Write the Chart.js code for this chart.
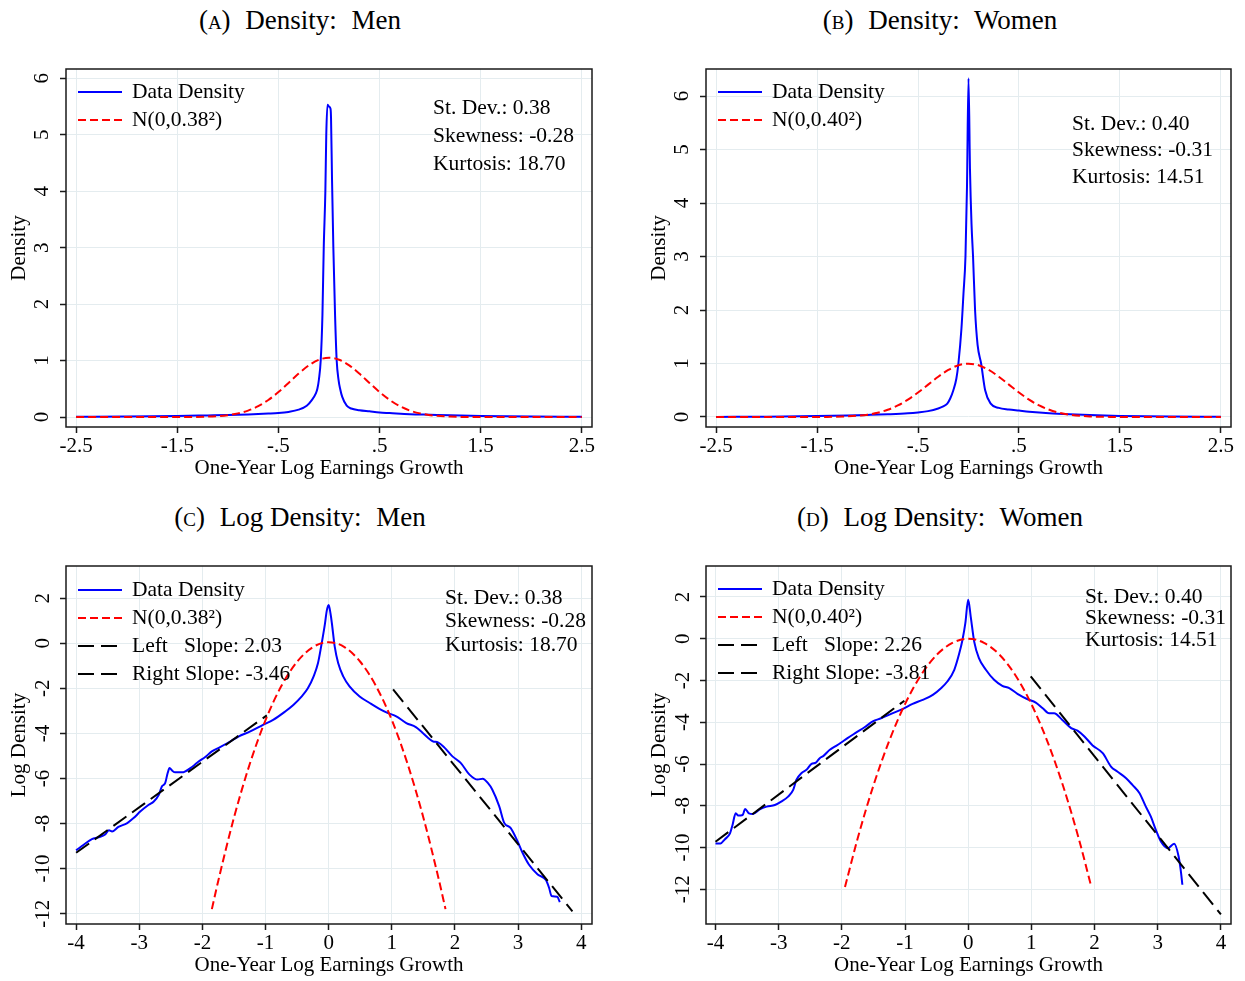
<!DOCTYPE html>
<html lang="en">
<head>
  <meta charset="UTF-8">
  <title>Earnings growth densities</title>
  <style>
    body {
      margin: 0;
      background: #fff;
      overflow: hidden;
      width: 1245px;
      height: 981px;
      position: relative;
    }
    canvas { position: absolute; }
    .ttl {
      position: absolute;
      width: 400px;
      text-align: center;
      font: 27px "Liberation Serif", "Times New Roman", serif;
      line-height: 32px;
      color: #000;
    }
    .sc { font-variant: small-caps; }
    .gap { margin-right: 8px; }
  </style>
</head>
<body>
  <div class="ttl" style="left:100px; top:4px">(<span class="sc">a</span>)<span class="gap"></span> Density:<span class="gap"></span> Men</div>
  <div class="ttl" style="left:740px; top:4px">(<span class="sc">b</span>)<span class="gap"></span> Density:<span class="gap"></span> Women</div>
  <div class="ttl" style="left:100px; top:501px">(<span class="sc">c</span>)<span class="gap"></span> Log Density:<span class="gap"></span> Men</div>
  <div class="ttl" style="left:740px; top:501px">(<span class="sc">d</span>)<span class="gap"></span> Log Density:<span class="gap"></span> Women</div>

  <canvas id="pa" width="620" height="490" style="left:0; top:0"></canvas>
  <canvas id="pb" width="605" height="490" style="left:640px; top:0"></canvas>
  <canvas id="pc" width="620" height="490" style="left:0; top:497px"></canvas>
  <canvas id="pd" width="605" height="490" style="left:640px; top:497px"></canvas>

  <script src="https://cdn.jsdelivr.net/npm/chart.js@4.4.9/dist/chart.umd.min.js"></script>
  <script>
    // ---- data ----
    const densTicksX = [-2.5, -1.5, -0.5, 0.5, 1.5, 2.5]
    const densTickLabelsX = ['-2.5', '-1.5', '-.5', '.5', '1.5', '2.5']
    const densTicksY = [0, 1, 2, 3, 4, 5, 6]
    const logTicksX = [-4, -3, -2, -1, 0, 1, 2, 3, 4]
    const logTicksY = [-12, -10, -8, -6, -4, -2, 0, 2]

    const menStats = ['St. Dev.: 0.38', 'Skewness: -0.28', 'Kurtosis: 18.70']
    const womenStats = ['St. Dev.: 0.40', 'Skewness: -0.31', 'Kurtosis: 14.51']

    // panel A: density, men
    const menDensX = [-2.5, -2.0, -1.5, -1.2, -1.0, -0.8, -0.6, -0.5, -0.4, -0.3, -0.22, -0.17, -0.13, -0.115, -0.1, -0.082, -0.065, -0.052, -0.036, -0.027, -0.015, 0, 0.015, 0.02, 0.03, 0.043, 0.06, 0.076, 0.095, 0.11, 0.13, 0.175, 0.22, 0.3, 0.4, 0.5, 0.6, 0.8, 1.0, 1.2, 1.5, 2.0, 2.5]
    const menDensY = [0.003, 0.008, 0.018, 0.028, 0.035, 0.045, 0.06, 0.07, 0.09, 0.13, 0.2, 0.3, 0.42, 0.5, 0.66, 1.0, 1.8, 3.0, 4.0, 5.0, 5.53, 5.5, 5.46, 5.3, 4.2, 3.0, 1.8, 1.0, 0.65, 0.5, 0.36, 0.2, 0.15, 0.12, 0.1, 0.08, 0.07, 0.05, 0.04, 0.03, 0.02, 0.008, 0.003]

    // panel B: density, women
    const womenDensX = [-2.5, -2.0, -1.5, -1.2, -1.0, -0.8, -0.6, -0.5, -0.4, -0.3, -0.25, -0.21, -0.18, -0.15, -0.12, -0.1, -0.07, -0.05, -0.03, -0.015, 0, 0.015, 0.03, 0.045, 0.065, 0.09, 0.125, 0.165, 0.22, 0.3, 0.4, 0.5, 0.6, 0.8, 1.0, 1.2, 1.5, 2.0, 2.5]
    const womenDensY = [0.002, 0.006, 0.018, 0.028, 0.038, 0.05, 0.068, 0.085, 0.11, 0.16, 0.2, 0.25, 0.35, 0.5, 0.72, 1.0, 1.65, 2.3, 3.0, 4.3, 6.33, 4.6, 3.6, 3.0, 2.0, 1.35, 1.0, 0.5, 0.25, 0.17, 0.14, 0.12, 0.1, 0.07, 0.05, 0.035, 0.02, 0.008, 0.003]

    // normal reference densities
    const normX = [-2.5, -2.0, -1.6, -1.4, -1.2, -1.0, -0.9, -0.8, -0.7, -0.6, -0.5, -0.4, -0.3, -0.2, -0.1, 0, 0.1, 0.2, 0.3, 0.4, 0.5, 0.6, 0.7, 0.8, 0.9, 1.0, 1.2, 1.4, 1.6, 2.0, 2.5]
    const menNormY = [0, 0, 0.0001, 0.001, 0.007, 0.033, 0.064, 0.114, 0.192, 0.302, 0.442, 0.603, 0.769, 0.914, 1.014, 1.05, 1.014, 0.914, 0.769, 0.603, 0.442, 0.302, 0.192, 0.114, 0.064, 0.033, 0.007, 0.001, 0.0001, 0, 0]
    const womenNormY = [0, 0, 0.0003, 0.002, 0.011, 0.044, 0.079, 0.135, 0.216, 0.324, 0.457, 0.605, 0.753, 0.88, 0.967, 0.997, 0.967, 0.88, 0.753, 0.605, 0.457, 0.324, 0.216, 0.135, 0.079, 0.044, 0.011, 0.002, 0.0003, 0, 0]

    // panel C: log density, men
    const menLogX = [-4, -3.88, -3.75, -3.64, -3.54, -3.48, -3.43, -3.33, -3.19, -3.09, -2.98, -2.85, -2.77, -2.69, -2.64, -2.59, -2.55, -2.52, -2.48, -2.43, -2.3, -2.19, -2.12, -2.06, -1.96, -1.85, -1.72, -1.56, -1.43, -1.25, -1.04, -0.88, -0.69, -0.56, -0.43, -0.33, -0.24, -0.17, -0.12, -0.06, -0.03, 0, 0.03, 0.05, 0.095, 0.15, 0.23, 0.33, 0.49, 0.65, 0.81, 0.94, 1.07, 1.23, 1.38, 1.49, 1.65, 1.73, 1.83, 1.96, 2.09, 2.23, 2.36, 2.44, 2.52, 2.59, 2.7, 2.78, 2.88, 2.99, 3.07, 3.17, 3.31, 3.44, 3.49, 3.53, 3.62, 3.66]
    const menLogY = [-9.19, -8.94, -8.69, -8.61, -8.49, -8.3, -8.35, -8.15, -7.98, -7.76, -7.46, -7.17, -7.02, -6.72, -6.35, -6.21, -5.76, -5.54, -5.65, -5.73, -5.72, -5.54, -5.39, -5.25, -5.06, -4.8, -4.61, -4.36, -4.14, -3.92, -3.62, -3.4, -3.03, -2.74, -2.37, -2.0, -1.48, -0.89, -0.15, 0.85, 1.45, 1.7, 1.3, 0.9, -0.14, -0.88, -1.47, -1.91, -2.36, -2.65, -2.92, -3.1, -3.24, -3.54, -3.72, -3.98, -4.35, -4.4, -4.62, -5.02, -5.31, -5.83, -6.05, -6.01, -6.2, -6.49, -7.23, -7.97, -8.19, -8.78, -9.3, -9.82, -10.26, -10.51, -10.85, -11.22, -11.25, -11.49]
    const menLogNormX = [-1.85, -1.75, -1.5, -1.25, -1, -0.75, -0.5, -0.25, 0, 0.25, 0.5, 0.75, 1, 1.25, 1.5, 1.75, 1.85]
    const menLogNormY = [-11.8, -10.56, -7.74, -5.36, -3.41, -1.9, -0.82, -0.17, 0.05, -0.17, -0.82, -1.9, -3.41, -5.36, -7.74, -10.56, -11.8]
    const menLeftX = [-4, -0.98]
    const menLeftY = [-9.3, -3.2]
    const menRightX = [1.02, 3.86]
    const menRightY = [-2.05, -11.9]

    // panel D: log density, women
    const womenLogX = [-4, -3.92, -3.85, -3.77, -3.73, -3.68, -3.64, -3.57, -3.53, -3.47, -3.41, -3.3, -3.19, -3.06, -2.96, -2.85, -2.77, -2.72, -2.64, -2.56, -2.48, -2.41, -2.35, -2.29, -2.19, -2.09, -2.01, -1.91, -1.77, -1.64, -1.51, -1.38, -1.22, -1.04, -0.88, -0.72, -0.56, -0.43, -0.33, -0.22, -0.14, -0.09, -0.045, 0, 0.04, 0.095, 0.17, 0.28, 0.41, 0.54, 0.65, 0.78, 0.94, 1.07, 1.18, 1.28, 1.36, 1.49, 1.63, 1.73, 1.84, 1.97, 2.13, 2.26, 2.36, 2.5, 2.6, 2.71, 2.81, 2.89, 2.97, 3.05, 3.16, 3.26, 3.33, 3.37, 3.39]
    const womenLogY = [-9.8, -9.8, -9.6, -9.32, -8.92, -8.36, -8.47, -8.44, -8.15, -8.36, -8.39, -8.17, -8.04, -7.96, -7.8, -7.56, -7.24, -6.76, -6.44, -6.28, -5.99, -5.93, -5.72, -5.61, -5.32, -5.13, -4.97, -4.76, -4.49, -4.24, -3.96, -3.81, -3.6, -3.37, -3.12, -2.93, -2.69, -2.37, -2.05, -1.49, -0.69, -0.05, 0.74, 1.86, 1.06, -0.14, -0.93, -1.49, -1.97, -2.26, -2.37, -2.64, -2.9, -3.06, -3.33, -3.57, -3.57, -3.89, -4.28, -4.4, -4.68, -5.11, -5.48, -6.12, -6.36, -6.68, -7.0, -7.39, -8.03, -8.51, -9.15, -9.71, -10.03, -9.82, -10.42, -11.22, -11.78]
    const womenLogNormX = [-1.95, -1.75, -1.5, -1.25, -1, -0.75, -0.5, -0.25, 0, 0.25, 0.5, 0.75, 1, 1.25, 1.5, 1.75, 1.95]
    const womenLogNormY = [-11.89, -9.57, -7.03, -4.89, -3.13, -1.76, -0.78, -0.2, 0, -0.2, -0.78, -1.76, -3.13, -4.89, -7.03, -9.57, -11.89]
    const womenLeftX = [-4, -1.01]
    const womenLeftY = [-9.72, -2.97]
    const womenRightX = [0.99, 4.0]
    const womenRightY = [-1.81, -13.2]

    // ---- drawing ----
    const FONT = '"Liberation Serif", "Times New Roman", serif'
    const BLUE = '#0000ff'
    const RED = '#ff0000'
    const BLACK = '#000000'
    const GRID = '#e4ecef'

    // frame round the plot region, legend and stats box (Stata style)
    const decor = {
      id: 'decor',
      afterDraw(chart, args, opts) {
        const { ctx, chartArea: a } = chart
        ctx.save()
        ctx.strokeStyle = '#1a1a1a'
        ctx.lineWidth = 1.5
        ctx.strokeRect(a.left, a.top, a.right - a.left, a.bottom - a.top)

        ctx.font = '21.5px ' + FONT
        ctx.textBaseline = 'middle'
        ctx.textAlign = 'left'
        ctx.fillStyle = '#000'
        let row = 0
        chart.data.datasets.forEach(ds => {
          if (!ds.legendText) return
          const y = a.top + opts.legendTop + row * 28
          ctx.beginPath()
          ctx.setLineDash(ds.borderDash || [])
          ctx.strokeStyle = ds.borderColor
          ctx.lineWidth = ds.borderWidth
          ctx.moveTo(a.left + 12, y)
          ctx.lineTo(a.left + 56, y)
          ctx.stroke()
          ctx.setLineDash([])
          ctx.fillText(ds.legendText, a.left + 66, y)
          row++
        })
        opts.stats.forEach((t, i) => {
          ctx.fillText(t, a.left + opts.statsLeft, a.top + opts.statsTop + i * opts.statsStep)
        })
        ctx.restore()
      }
    }

    function series(x, y, label, color, dash, order) {
      return {
        data: x.map((v, i) => ({ x: v, y: y[i] })),
        legendText: label,
        borderColor: color,
        borderWidth: 2,
        borderDash: dash,
        pointRadius: 0,
        fill: false,
        cubicInterpolationMode: 'monotone',
        order: order
      }
    }

    function makeScale(min, max, ticks, labels, title, vertical, labelPad) {
      return {
        type: 'linear',
        min: min,
        max: max,
        afterBuildTicks: s => { s.ticks = ticks.map(v => ({ value: v })) },
        afterFit: s => { if (vertical) s.width = 66; else s.height = 63 },
        border: { display: false },
        grid: {
          color: GRID,
          lineWidth: 1,
          drawTicks: true,
          tickLength: 6,
          tickColor: '#1a1a1a',
          tickWidth: 1.5
        },
        ticks: {
          autoSkip: false,
          color: '#000',
          font: { family: FONT, size: 21 },
          padding: labelPad,
          minRotation: vertical ? 90 : 0,
          maxRotation: vertical ? 90 : 0,
          crossAlign: vertical ? 'center' : 'near',
          callback: v => labels[ticks.indexOf(v)]
        },
        title: {
          display: true,
          text: title,
          color: '#000',
          font: { family: FONT, size: 21 },
          padding: vertical ? { top: 7, bottom: 0 } : { top: 0, bottom: 9 }
        }
      }
    }

    function panel(id, datasets, xs, ys, rightPad, decorOpts) {
      new Chart(document.getElementById(id), {
        type: 'line',
        data: { datasets: datasets },
        options: {
          responsive: false,
          animation: false,
          layout: { padding: { left: 0, top: 69, right: rightPad, bottom: 0 } },
          plugins: {
            legend: { display: false },
            tooltip: { enabled: false },
            decor: decorOpts
          },
          scales: { x: xs, y: ys }
        },
        plugins: [decor]
      })
    }

    const xLabel = 'One-Year Log Earnings Growth'
    const logLabels = logTicksX.map(String)
    const logLabelsY = logTicksY.map(String)
    const densLabelsY = densTicksY.map(String)

    panel('pa', [
        series(menDensX, menDensY, 'Data Density', BLUE, [], 2),
        series(normX, menNormY, 'N(0,0.38²)', RED, [8, 4], 1)
      ],
      makeScale(-2.6, 2.6, densTicksX, densTickLabelsX, xLabel, false, 1),
      makeScale(-0.177, 6.165, densTicksY, densLabelsY, 'Density', true, 12),
      28, { legendTop: 23, stats: menStats, statsLeft: 367, statsTop: 39, statsStep: 28 })

    panel('pb', [
        series(womenDensX, womenDensY, 'Data Density', BLUE, [], 2),
        series(normX, womenNormY, 'N(0,0.40²)', RED, [8, 4], 1)
      ],
      makeScale(-2.6, 2.6, densTicksX, densTickLabelsX, xLabel, false, 1),
      makeScale(-0.187, 6.505, densTicksY, densLabelsY, 'Density', true, 12),
      14, { legendTop: 23, stats: womenStats, statsLeft: 366, statsTop: 55, statsStep: 26.5 })

    panel('pc', [
        series(menLogX, menLogY, 'Data Density', BLUE, [], 4),
        series(menLogNormX, menLogNormY, 'N(0,0.38²)', RED, [8, 4], 3),
        series(menLeftX, menLeftY, 'Left   Slope: 2.03', BLACK, [16, 7], 2),
        series(menRightX, menRightY, 'Right Slope: -3.46', BLACK, [16, 7], 1)
      ],
      makeScale(-4.16, 4.17, logTicksX, logLabels, xLabel, false, 1),
      makeScale(-12.46, 3.43, logTicksY, logLabelsY, 'Log Density', true, 3),
      28, { legendTop: 24, stats: menStats, statsLeft: 379, statsTop: 32, statsStep: 23.5 })

    panel('pd', [
        series(womenLogX, womenLogY, 'Data Density', BLUE, [], 4),
        series(womenLogNormX, womenLogNormY, 'N(0,0.40²)', RED, [8, 4], 3),
        series(womenLeftX, womenLeftY, 'Left   Slope: 2.26', BLACK, [16, 7], 2),
        series(womenRightX, womenRightY, 'Right Slope: -3.81', BLACK, [16, 7], 1)
      ],
      makeScale(-4.15, 4.16, logTicksX, logLabels, xLabel, false, 1),
      makeScale(-13.66, 3.48, logTicksY, logLabelsY, 'Log Density', true, 3),
      14, { legendTop: 23, stats: womenStats, statsLeft: 379, statsTop: 31, statsStep: 21.5 })
  </script>
</body>
</html>
